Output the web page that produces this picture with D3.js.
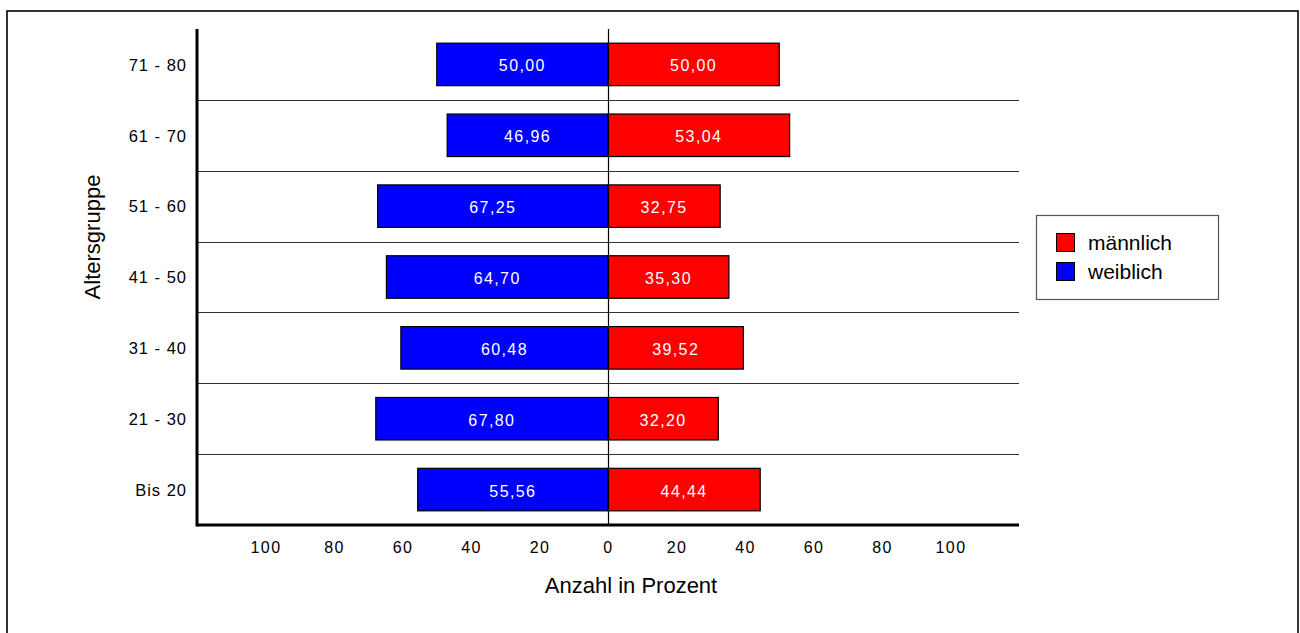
<!DOCTYPE html>
<html>
<head>
<meta charset="utf-8">
<script src="https://cdn.jsdelivr.net/npm/d3@7"></script>
<style>
  html, body { margin: 0; padding: 0; background: #fff; }
  svg { display: block; font-family: "Liberation Sans", Arial, sans-serif; }
</style>
</head>
<body>
<svg id="chart" width="1300" height="633"></svg>
<script>
// Age groups, top to bottom
const ageGroups = ["71 - 80", "61 - 70", "51 - 60", "41 - 50", "31 - 40", "21 - 30", "Bis 20"];
// Share per age group in percent
const weiblich  = [50.00, 46.96, 67.25, 64.70, 60.48, 67.80, 55.56];
const maennlich = [50.00, 53.04, 32.75, 35.30, 39.52, 32.20, 44.44];
const xTicks = [-100, -80, -60, -40, -20, 0, 20, 40, 60, 80, 100];
const seriesNames = ["männlich", "weiblich"];
const seriesColors = ["#ff0000", "#0000ff"];

const svg = d3.select("#chart");

const de = d3.formatLocale({ decimal: ",", thousands: ".", grouping: [3], currency: ["", " €"] });
const fmt = de.format(".2f");

const plot = { left: 197, right: 1019, top: 29, bottom: 525 };

const x = d3.scaleLinear().domain([-120, 120]).range([plot.left, plot.right]);
const y = d3.scaleBand().domain(ageGroups).range([plot.top, plot.bottom]).padding(0);
const barInset = y.bandwidth() * 0.2;
const barH = y.bandwidth() * 0.6;

// outer frame
svg.append("rect")
  .attr("x", 7).attr("y", 11).attr("width", 1291).attr("height", 640)
  .attr("fill", "none").attr("stroke", "#000").attr("stroke-width", 1.6);

// row separators
svg.append("g").selectAll("line")
  .data(ageGroups.slice(1))
  .join("line")
  .attr("x1", plot.left).attr("x2", plot.right)
  .attr("y1", d => Math.round(y(d)) + 0.5).attr("y2", d => Math.round(y(d)) + 0.5)
  .attr("stroke", "#333").attr("stroke-width", 1.2);

const rows = ageGroups.map((g, i) => ({ g, w: weiblich[i], m: maennlich[i] }));

// female bars (left of zero)
svg.append("g").selectAll("rect")
  .data(rows)
  .join("rect")
  .attr("x", d => x(-d.w)).attr("width", d => x(0) - x(-d.w))
  .attr("y", d => y(d.g) + barInset).attr("height", barH)
  .attr("fill", seriesColors[1]).attr("stroke", "#000").attr("stroke-width", 1.2);

// male bars (right of zero)
svg.append("g").selectAll("rect")
  .data(rows)
  .join("rect")
  .attr("x", x(0)).attr("width", d => x(d.m) - x(0))
  .attr("y", d => y(d.g) + barInset).attr("height", barH)
  .attr("fill", seriesColors[0]).attr("stroke", "#000").attr("stroke-width", 1.2);

// value labels inside bars
const labelStyle = sel => sel
  .attr("text-anchor", "middle").attr("fill", "#fff")
  .attr("font-size", 16).attr("letter-spacing", 1.4)
  .attr("y", d => y(d.g) + y.bandwidth() / 2 + 7);

svg.append("g").selectAll("text")
  .data(rows).join("text")
  .attr("x", d => (x(-d.w) + x(0)) / 2)
  .call(labelStyle)
  .text(d => fmt(d.w));

svg.append("g").selectAll("text")
  .data(rows).join("text")
  .attr("x", d => (x(d.m) + x(0)) / 2)
  .call(labelStyle)
  .text(d => fmt(d.m));

// zero line
svg.append("line")
  .attr("x1", Math.round(x(0)) + 0.5).attr("x2", Math.round(x(0)) + 0.5)
  .attr("y1", plot.top).attr("y2", plot.bottom)
  .attr("stroke", "#000").attr("stroke-width", 1.2);

// x axis
const xAxis = svg.append("g")
  .attr("transform", `translate(0,${plot.bottom})`)
  .call(d3.axisBottom(x).tickValues(xTicks).tickSize(0).tickPadding(17)
    .tickFormat(d => Math.abs(d)));
xAxis.select(".domain").remove();
xAxis.selectAll("text")
  .attr("font-size", 16).attr("letter-spacing", 1.4).attr("fill", "#000")
  .attr("font-family", "'Liberation Sans', Arial, sans-serif");
svg.append("line")
  .attr("x1", plot.left).attr("x2", plot.right)
  .attr("y1", plot.bottom).attr("y2", plot.bottom)
  .attr("stroke", "#000").attr("stroke-width", 3);

// y axis
const yAxis = svg.append("g")
  .attr("transform", `translate(${plot.left},1)`)
  .call(d3.axisLeft(y).tickSize(0).tickPadding(10));
yAxis.select(".domain").remove();
yAxis.selectAll("text")
  .attr("font-size", 16.5).attr("letter-spacing", 1).attr("fill", "#000")
  .attr("font-family", "'Liberation Sans', Arial, sans-serif");
svg.append("line")
  .attr("x1", plot.left).attr("x2", plot.left)
  .attr("y1", plot.top).attr("y2", plot.bottom + 1.5)
  .attr("stroke", "#000").attr("stroke-width", 3);

// axis titles
svg.append("text")
  .attr("x", 631).attr("y", 593)
  .attr("text-anchor", "middle").attr("font-size", 22).attr("fill", "#000")
  .text("Anzahl in Prozent");

svg.append("text")
  .attr("transform", "translate(100,237) rotate(-90)")
  .attr("text-anchor", "middle").attr("font-size", 22).attr("fill", "#000")
  .text("Altersgruppe");

// legend
const legend = svg.append("g");
legend.append("rect")
  .attr("x", 1036.5).attr("y", 215.5).attr("width", 182).attr("height", 84)
  .attr("fill", "#fff").attr("stroke", "#555").attr("stroke-width", 1.2);
const items = legend.selectAll("g.item")
  .data(seriesNames).join("g")
  .attr("class", "item")
  .attr("transform", (d, i) => `translate(1056,${233 + i * 29})`);
items.append("rect")
  .attr("x", 0.5).attr("y", 0.5).attr("width", 18).attr("height", 18)
  .attr("fill", (d, i) => seriesColors[i]).attr("stroke", "#000").attr("stroke-width", 1);
items.append("text")
  .attr("x", 32).attr("y", 17)
  .attr("font-size", 21).attr("fill", "#000")
  .text(d => d);
</script>
</body>
</html>
